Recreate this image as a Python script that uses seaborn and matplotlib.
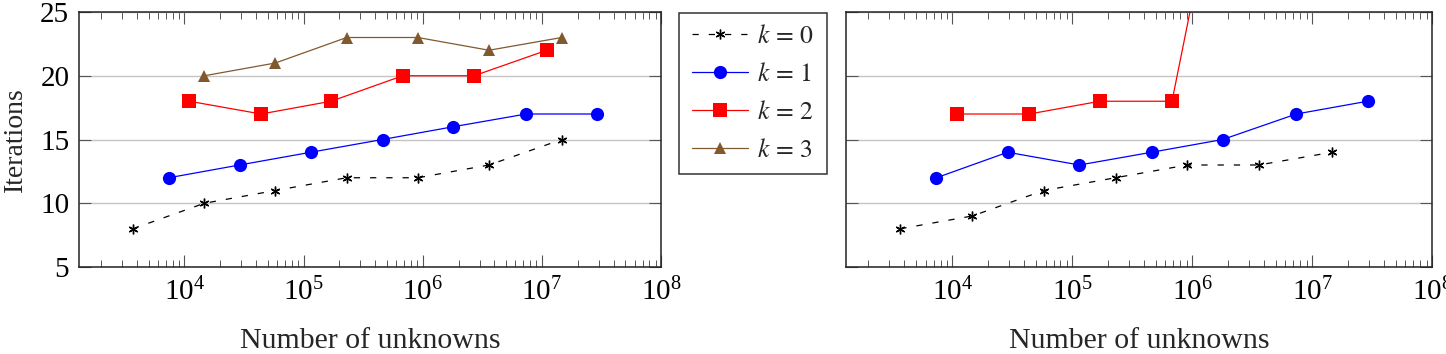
import numpy as np
import pandas as pd
import matplotlib
matplotlib.use("Agg")
import matplotlib.pyplot as plt
import seaborn as sns

# unknowns per refinement level
n_k0 = [3.7e3, 1.47e4, 5.8e4, 2.3e5, 9.1e5, 3.6e6, 1.47e7]
n_k1 = [7.4e3, 2.9e4, 1.15e5, 4.6e5, 1.8e6, 7.4e6, 2.9e7]
n_k2 = [1.1e4, 4.4e4, 1.7e5, 6.8e5, 2.7e6, 1.1e7]
n_k3 = [1.47e4, 5.8e4, 2.3e5, 9.1e5, 3.6e6, 1.47e7]

# left panel iterations
left_k0 = [8, 10, 11, 12, 12, 13, 15]
left_k1 = [12, 13, 14, 15, 16, 17, 17]
left_k2 = [18, 17, 18, 20, 20, 22]
left_k3 = [20, 21, 23, 23, 22, 23]

# right panel iterations (k=2 blows up past the axis)
right_k0 = [8, 9, 11, 12, 13, 13, 14]
right_k1 = [12, 14, 13, 14, 15, 17, 18]
right_k2 = [17, 17, 18, 18, 46]
n_right_k2 = n_k2[:5]

labels = [r"$k\,=\,0$", r"$k\,=\,1$", r"$k\,=\,2$", r"$k\,=\,3$"]

sns.set_theme(style="white")
plt.rcParams["font.family"] = ["Liberation Serif", "DejaVu Serif"]
plt.rcParams["mathtext.fontset"] = "stix"

styles = {
    0: dict(color="black", marker=(6, 2, 0), markersize=7, linestyle=(0, (5, 8)), linewidth=0.9, markeredgewidth=1.0),
    1: dict(color="#0000ff", marker="o", markersize=9.5, linestyle="-", linewidth=0.9),
    2: dict(color="#ff0000", marker="s", markersize=10, linestyle="-", linewidth=0.9),
    3: dict(color="#80592f", marker="^", markersize=9, linestyle="-", linewidth=0.9),
}

FS_TICK = 21
FS_LABEL = 21.5

fig = plt.figure(figsize=(14.46, 3.54), dpi=100)
ax_l = fig.add_axes([79 / 1446, 87 / 354, 582 / 1446, 255 / 354])
ax_r = fig.add_axes([846 / 1446, 87 / 354, 586 / 1446, 255 / 354])


def draw(ax, series):
    for k, (xs, ys) in series.items():
        st = styles[k]
        sns.lineplot(x=xs, y=ys, ax=ax, estimator=None, sort=False,
                     color=st["color"], marker=st["marker"], markersize=st["markersize"],
                     linestyle=st["linestyle"], linewidth=st["linewidth"],
                     markeredgewidth=st.get("markeredgewidth", 0), markeredgecolor=st["color"],
                     label=labels[k], legend=False)
    ax.set_xscale("log")
    ax.set_xlim(10 ** 3.115, 1e8)
    ax.set_ylim(5, 25)
    ax.set_yticks([5, 10, 15, 20, 25])
    ax.set_xticks([1e4, 1e5, 1e6, 1e7, 1e8])
    ax.xaxis.set_minor_locator(matplotlib.ticker.LogLocator(base=10, subs=np.arange(2, 10), numticks=20))
    ax.xaxis.set_minor_formatter(matplotlib.ticker.NullFormatter())
    ax.grid(axis="y", color="#c4c4c4", linewidth=1.0)
    ax.grid(axis="x", visible=False)
    ax.set_axisbelow(True)
    for sp in ax.spines.values():
        sp.set_color("#222222")
        sp.set_linewidth(1.1)
    ax.tick_params(which="both", direction="in", top=True, right=True, bottom=True, left=True,
                   colors="#555555", labelcolor="black", labelsize=FS_TICK)
    ax.tick_params(which="major", length=8.5, width=0.8)
    ax.tick_params(which="minor", length=5, width=0.7)
    ax.tick_params(axis="x", which="major", pad=8)
    ax.tick_params(axis="y", which="major", pad=7)
    ax.set_xlabel("Number of unknowns", fontsize=FS_LABEL)
    ax.xaxis.set_label_coords(0.5, -0.238)


draw(ax_l, {0: (n_k0, left_k0), 1: (n_k1, left_k1), 2: (n_k2, left_k2), 3: (n_k3, left_k3)})
draw(ax_r, {0: (n_k0, right_k0), 1: (n_k1, right_k1), 2: (n_right_k2, right_k2)})
ax_l.set_ylabel("Iterations", fontsize=20, va="baseline")
ax_l.yaxis.set_label_coords((22 - 79) / 582, 0.5)
ax_r.set_yticklabels([])
ax_r.set_ylabel("")

handles = ax_l.get_lines()[:4]
leg = fig.legend(handles, labels, loc="upper left",
                 bbox_to_anchor=(679 / 1446, 1 - 12.5 / 354),
                 frameon=True, fancybox=False, edgecolor="black", fontsize=18.5,
                 handlelength=2.2, handletextpad=0.35, labelspacing=0.58,
                 borderpad=0.49, borderaxespad=0)
leg.get_frame().set_linewidth(1.1)

fig.savefig("out.png", dpi=100)
